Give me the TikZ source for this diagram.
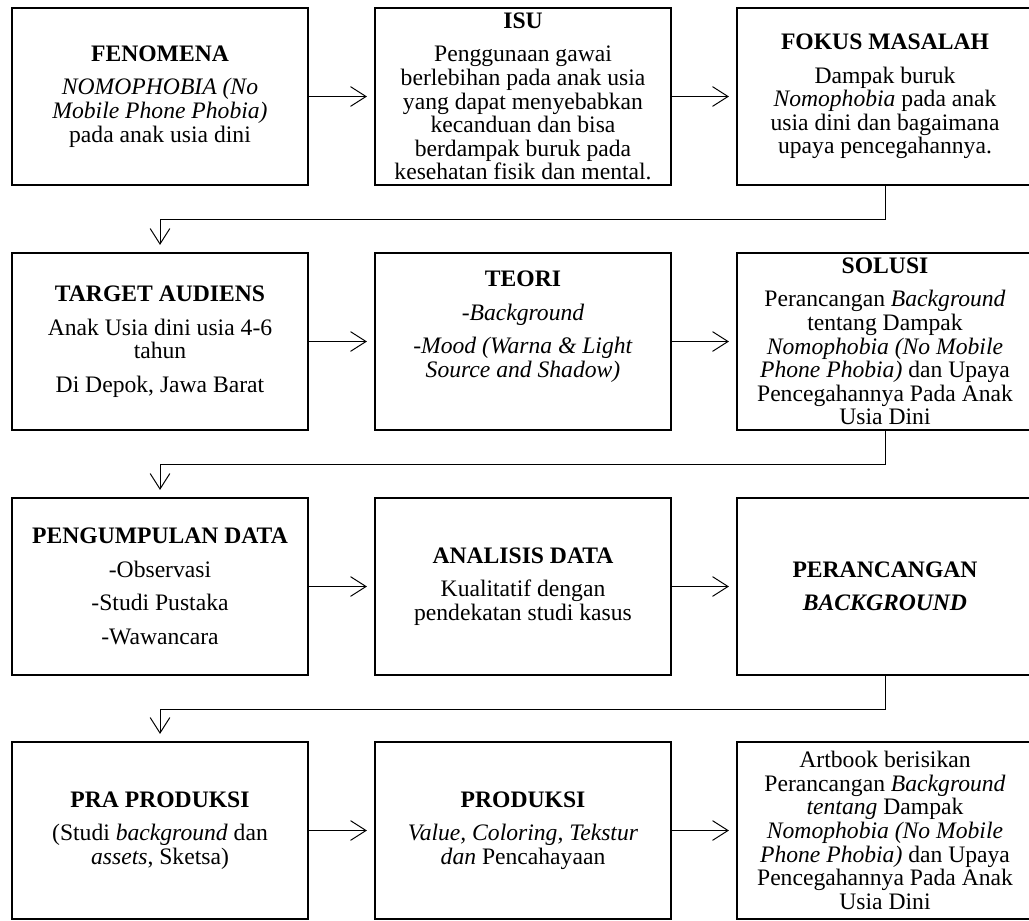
\documentclass[tikz,border=0pt]{standalone}
\usepackage{fontspec}
\setmainfont{Liberation Serif}
\usepackage{tikz}
\usetikzlibrary{arrows.meta}
\usetikzlibrary{positioning}
\tikzset{kotak/.style = {draw, line width = 1.5pt, minimum width = 7.4cm, minimum height = 4.425cm, inner sep = 0, align = center, font = \fontsize{16.8}{16.8}\selectfont}}
\tikzset{panah/.style = {line width = 0.7pt, -{Straight Barb[length = 11pt, width = 14pt]}, shorten > = 5pt}}

\begin{document}
\begin{tikzpicture}
      \clip (0, 0) rectangle (25.725, -23);
      % baris 1
      \node [kotak] (fenomena) at (4, -2.4125) {\textbf{FENOMENA}\\[7pt] \textit{NOMOPHOBIA (No}\\ \textit{Mobile Phone Phobia)}\\ pada anak usia dini};
      \node [kotak] (isu) at (13.075, -2.4125) {\textbf{ISU}\\[7pt] Penggunaan gawai\\ berlebihan pada anak usia\\ yang dapat menyebabkan\\ kecanduan dan bisa\\ berdampak buruk pada\\ kesehatan fisik dan mental.};
      \node [kotak] (fokus) at (22.125, -2.4125) {\textbf{FOKUS MASALAH}\\[7pt] Dampak buruk\\ \textit{Nomophobia} pada anak\\ usia dini dan bagaimana\\ upaya pencegahannya.};
      % baris 2
      \node [kotak] (target) at (4, -8.5375) {\textbf{TARGET AUDIENS}\\[7pt] Anak Usia dini usia 4-6\\ tahun\\[7pt] Di Depok, Jawa Barat};
      \node [kotak] (teori) at (13.075, -8.5375) {\textbf{TEORI}\\[7pt] \textit{-Background}\\[7pt] \textit{-Mood (Warna \& Light}\\ \textit{Source and Shadow)}\\[7.6pt] \mbox{}};
      \node [kotak] (solusi) at (22.125, -8.5375) {\textbf{SOLUSI}\\[7pt] Perancangan \textit{Background}\\ tentang Dampak\\ \textit{Nomophobia (No Mobile}\\ \textit{Phone Phobia)} dan Upaya\\ Pencegahannya Pada Anak\\ Usia Dini};
      % baris 3
      \node [kotak] (pengumpulan) at (4, -14.6625) {\textbf{PENGUMPULAN DATA}\\[7pt] -Observasi\\[7pt] -Studi Pustaka\\[7pt] -Wawancara};
      \node [kotak] (analisis) at (13.075, -14.6625) {\textbf{ANALISIS DATA}\\[7pt] Kualitatif dengan\\ pendekatan studi kasus};
      \node [kotak] (perancangan) at (22.125, -14.6625) {\textbf{PERANCANGAN}\\[7pt] \textbf{\textit{BACKGROUND}}};
      % baris 4
      \node [kotak] (prapro) at (4, -20.7625) {\textbf{PRA PRODUKSI}\\[7pt] (Studi \textit{background} dan\\ \textit{assets}, Sketsa)};
      \node [kotak] (produksi) at (13.075, -20.7625) {\textbf{PRODUKSI}\\[7pt] \textit{Value, Coloring, Tekstur}\\ \textit{dan} Pencahayaan};
      \node [kotak] (artbook) at (22.125, -20.7625) {Artbook berisikan\\ Perancangan \textit{Background}\\ \textit{tentang} Dampak\\ \textit{Nomophobia (No Mobile}\\ \textit{Phone Phobia)} dan Upaya\\ Pencegahannya Pada Anak\\ Usia Dini};
      % panah
      \draw [panah] (fenomena) -- (isu);
      \draw [panah] (isu) -- (fokus);
      \draw [panah] (fokus.south) -- ++(0, -0.825) -| (target.north);
      \draw [panah] (target) -- (teori);
      \draw [panah] (teori) -- (solusi);
      \draw [panah] (solusi.south) -- ++(0, -0.825) -| (pengumpulan.north);
      \draw [panah] (pengumpulan) -- (analisis);
      \draw [panah] (analisis) -- (perancangan);
      \draw [panah] (perancangan.south) -- ++(0, -0.825) -| (prapro.north);
      \draw [panah] (prapro) -- (produksi);
      \draw [panah] (produksi) -- (artbook);
    \end{tikzpicture}
\end{document}
